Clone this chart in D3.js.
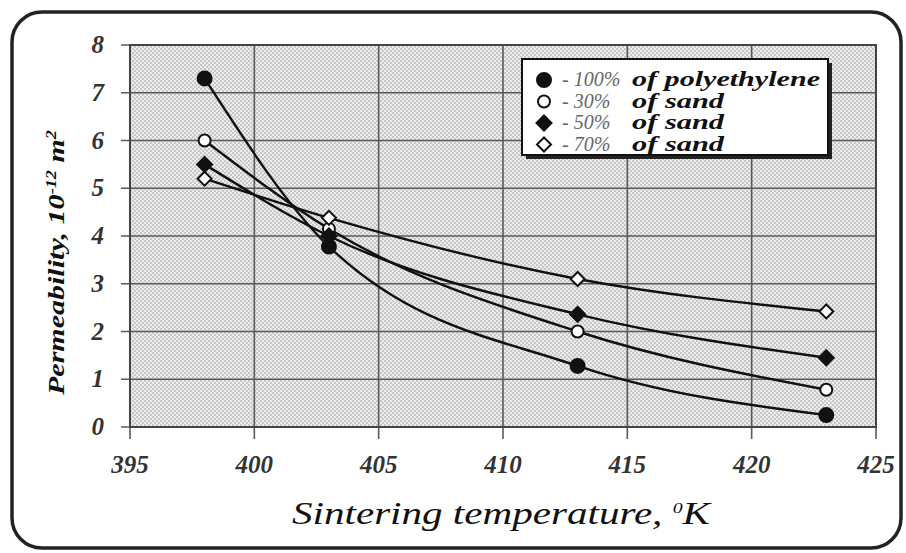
<!DOCTYPE html>
<html><head><meta charset="utf-8">
<script src="https://cdn.jsdelivr.net/npm/d3@7/dist/d3.min.js"></script>
<style>body{margin:0;background:#fff}svg{display:block}
.tick-lab{font-family:'Liberation Serif','Times New Roman',serif;font-style:italic;font-weight:bold;font-size:25px;fill:#333}
</style>
</head><body><svg id="c" width="906" height="553"></svg>
<script>
const temps = [398, 403, 413, 423];
const polyethylene100 = [7.3, 3.78, 1.28, 0.25];
const sand30 = [6.0, 4.15, 2.0, 0.78];
const sand50 = [5.5, 4.0, 2.36, 1.45];
const sand70 = [5.2, 4.38, 3.1, 2.42];
const xTicks = [395, 400, 405, 410, 415, 420, 425];
const yTicks = [0, 1, 2, 3, 4, 5, 6, 7, 8];
const seriesNames = ["100%", "30%", "50%", "70%"];
const seriesTails = ["of polyethylene", "of sand", "of sand", "of sand"];
const markerKinds = ["circleFilled", "circleOpen", "diamondFilled", "diamondOpen"];

const svg = d3.select("#c");
const L = 130, R = 876, T = 45, B = 427;
const x = d3.scaleLinear().domain([395, 425]).range([L, R]);
const y = d3.scaleLinear().domain([0, 8]).range([B, T]);
const serif = "'Liberation Serif','Times New Roman',serif";

// halftone pattern
const defs = svg.append("defs");
const pat = defs.append("pattern").attr("id", "ht").attr("width", 4).attr("height", 4)
  .attr("patternUnits", "userSpaceOnUse");
pat.append("rect").attr("width", 4).attr("height", 4).attr("fill", "#ececec");
pat.append("rect").attr("x", 0).attr("y", 0).attr("width", 2).attr("height", 2).attr("fill", "#c8c8c8");
pat.append("rect").attr("x", 2).attr("y", 2).attr("width", 2).attr("height", 2).attr("fill", "#c8c8c8");

// outer rounded frame
svg.append("rect").attr("x", 12).attr("y", 12).attr("width", 889).attr("height", 536)
  .attr("rx", 30).attr("ry", 30).attr("fill", "#fff").attr("stroke", "#222").attr("stroke-width", 3.5);

// plot background
svg.append("rect").attr("x", L).attr("y", T).attr("width", R - L).attr("height", B - T)
  .attr("fill", "url(#ht)");

// grid
const g = svg.append("g");
g.selectAll(".hy").data(yTicks).join("line")
  .attr("x1", L - 9).attr("x2", R).attr("y1", d => y(d)).attr("y2", d => y(d))
  .attr("stroke", "#5a5a5a").attr("stroke-width", 1.6);
g.selectAll(".vx").data(xTicks).join("line")
  .attr("x1", d => x(d)).attr("x2", d => x(d)).attr("y1", T).attr("y2", B + 12)
  .attr("stroke", "#5a5a5a").attr("stroke-width", 1.6);
svg.append("rect").attr("x", L).attr("y", T).attr("width", R - L).attr("height", B - T)
  .attr("fill", "none").attr("stroke", "#444").attr("stroke-width", 2);

// tick labels
svg.append("g").selectAll("text").data(xTicks).join("text")
  .attr("class", "tick-lab").attr("x", d => x(d)).attr("y", B + 46)
  .attr("text-anchor", "middle").text(d => d);
svg.append("g").selectAll("text").data(yTicks).join("text")
  .attr("class", "tick-lab").attr("x", L - 26).attr("y", d => y(d) + 8)
  .attr("text-anchor", "end").text(d => d);

svg.append("text").attr("x", 292).attr("y", 524)
  .style("font-family", serif).style("font-style", "italic").style("font-size", "31px").attr("fill", "#111")
  .attr("textLength", 418).attr("lengthAdjust", "spacingAndGlyphs")
  .html('Sintering temperature, <tspan dy="-11" font-size="15">0</tspan><tspan dy="11">K</tspan>');

svg.append("text").attr("transform", "translate(64,395) rotate(-90)")
  .style("font-family", serif).style("font-style", "italic").style("font-weight", "bold")
  .style("font-size", "23px").attr("fill", "#111")
  .attr("textLength", 265).attr("lengthAdjust", "spacingAndGlyphs")
  .html('Permeability, 10<tspan dy="-8" font-size="14">-12</tspan><tspan dy="8"> m</tspan><tspan dy="-8" font-size="14">2</tspan>');

// series
const allSeries = [polyethylene100, sand30, sand50, sand70];
const line = d3.line().x(d => x(d[0])).y(d => y(d[1])).curve(d3.curveMonotoneX);
allSeries.forEach(vals => {
  svg.append("path").datum(temps.map((t, i) => [t, vals[i]]))
    .attr("d", line).attr("fill", "none").attr("stroke", "#111").attr("stroke-width", 2.4);
});

function drawMarker(sel, kind, cx, cy) {
  const filled = kind.endsWith("Filled");
  if (kind.startsWith("circle")) {
    sel.append("circle").attr("cx", cx).attr("cy", cy).attr("r", filled ? 7 : 6)
      .attr("fill", filled ? "#111" : "#fff").attr("stroke", "#111").attr("stroke-width", 2);
  } else {
    const s = filled ? 7.5 : 7;
    sel.append("path").attr("d", `M${cx},${cy - s}L${cx + s},${cy}L${cx},${cy + s}L${cx - s},${cy}Z`)
      .attr("fill", filled ? "#111" : "#fff").attr("stroke", "#111").attr("stroke-width", 2);
  }
}
allSeries.forEach((vals, si) => {
  const mg = svg.append("g");
  temps.forEach((t, i) => drawMarker(mg, markerKinds[si], x(t), y(vals[i])));
});

// legend
const lg = svg.append("g");
lg.append("rect").attr("x", 526).attr("y", 63).attr("width", 306).attr("height", 96).attr("fill", "#222");
lg.append("rect").attr("x", 522).attr("y", 59).attr("width", 306).attr("height", 96)
  .attr("fill", "#fff").attr("stroke", "#111").attr("stroke-width", 2);
seriesNames.forEach((nm, i) => {
  const yy = 80 + i * 21.5;
  drawMarker(lg, markerKinds[i], 544, yy);
  lg.append("text").attr("x", 562).attr("y", yy + 6)
    .style("font-family", serif).style("font-style", "italic").style("font-size", "20px")
    .attr("fill", "#666").text("- " + nm);
  const tail = lg.append("text").attr("x", 632).attr("y", yy + 6)
    .style("font-family", serif).style("font-style", "italic").style("font-weight", "bold")
    .style("font-size", "20px").attr("fill", "#111").text(seriesTails[i]);
  tail.attr("textLength", i === 0 ? 188 : 92).attr("lengthAdjust", "spacingAndGlyphs");
});
</script></body></html>
